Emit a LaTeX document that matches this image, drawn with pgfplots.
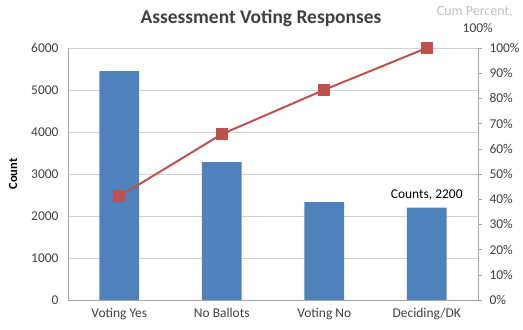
\documentclass[border=0pt]{standalone}
\usepackage{pgfplots}
\pgfplotsset{compat=1.18}
\usepackage{fontspec}
\setmainfont{Carlito}
\definecolor{barblue}{HTML}{4F81BD}
\definecolor{linered}{HTML}{C0504D}
\definecolor{gridgray}{HTML}{D0D0D0}
\definecolor{axgray}{HTML}{A6A6A6}
\definecolor{txt}{HTML}{404040}
\begin{document}
\begin{tikzpicture}
\path[use as bounding box] (0,0) rectangle (523bp,330bp);
\begin{axis}[
  at={(68bp,30bp)}, anchor=south west,
  scale only axis, width=410bp, height=252bp,
  xmin=-0.5, xmax=3.5, ymin=0, ymax=6000,
  xtick=data, xticklabels={Voting Yes, No Ballots, Voting No, Deciding/DK},
  ytick={0,1000,...,6000},
  axis y line*=left, axis x line*=bottom,
  axis line style={axgray, -},
  ymajorgrids, grid style={gridgray},
  major tick length=0pt,
  tick label style={font=\fontsize{13.5}{15}\selectfont, text=txt},
  /pgf/number format/assume math mode=true,
  yticklabel style={/pgf/number format/1000 sep={}, xshift=-6bp},
  xticklabel style={yshift=-5bp},
  ylabel={\textbf{Count}}, ylabel style={font=\fontsize{12.5}{14}\selectfont, text=black, at={(axis description cs:-0.115,0.5)}},
  scaled y ticks=false,
]
\addplot[ybar, bar width=0.39, fill=barblue, draw=none] coordinates {(0,5450) (1,3280) (2,2330) (3,2200)};
\node[font=\fontsize{13.5}{15}\selectfont, text=black, anchor=south] at (axis cs:3,2200) [yshift=4bp] {Counts, 2200};
\end{axis}
\begin{axis}[
  at={(68bp,30bp)}, anchor=south west,
  scale only axis, width=410bp, height=252bp,
  xmin=-0.5, xmax=3.5, ymin=0, ymax=100,
  axis y line*=right, axis x line=none,
  axis line style={axgray, -},
  ytick={0,10,...,100}, yticklabel={\pgfmathprintnumber{\tick}\%},
  tick style={axgray}, tick align=outside, major tick length=4bp,
  tick label style={font=\fontsize{13.5}{15}\selectfont, text=txt},
  /pgf/number format/assume math mode=true,
  yticklabel style={xshift=4bp},
  clip=false,
]
\addplot[linered, line width=2pt, mark=square*, mark size=5bp, mark options={fill=linered}] coordinates {(0,41.1) (1,65.8) (2,83.4) (3,100)};
\node[font=\fontsize{14}{16}\selectfont, text=gridgray!80!gray, anchor=center] at (axis cs:3,100) [xshift=48bp, yshift=36bp] {Cum Percent,};
\node[font=\fontsize{13.5}{16}\selectfont, text=txt, anchor=center] at (axis cs:3,100) [xshift=51bp, yshift=20bp] {100\%};
\end{axis}
\node[font=\bfseries\fontsize{19.5}{22}\selectfont, text=txt] at (261bp,312bp) {Assessment Voting Responses};
\end{tikzpicture}
\end{document}
